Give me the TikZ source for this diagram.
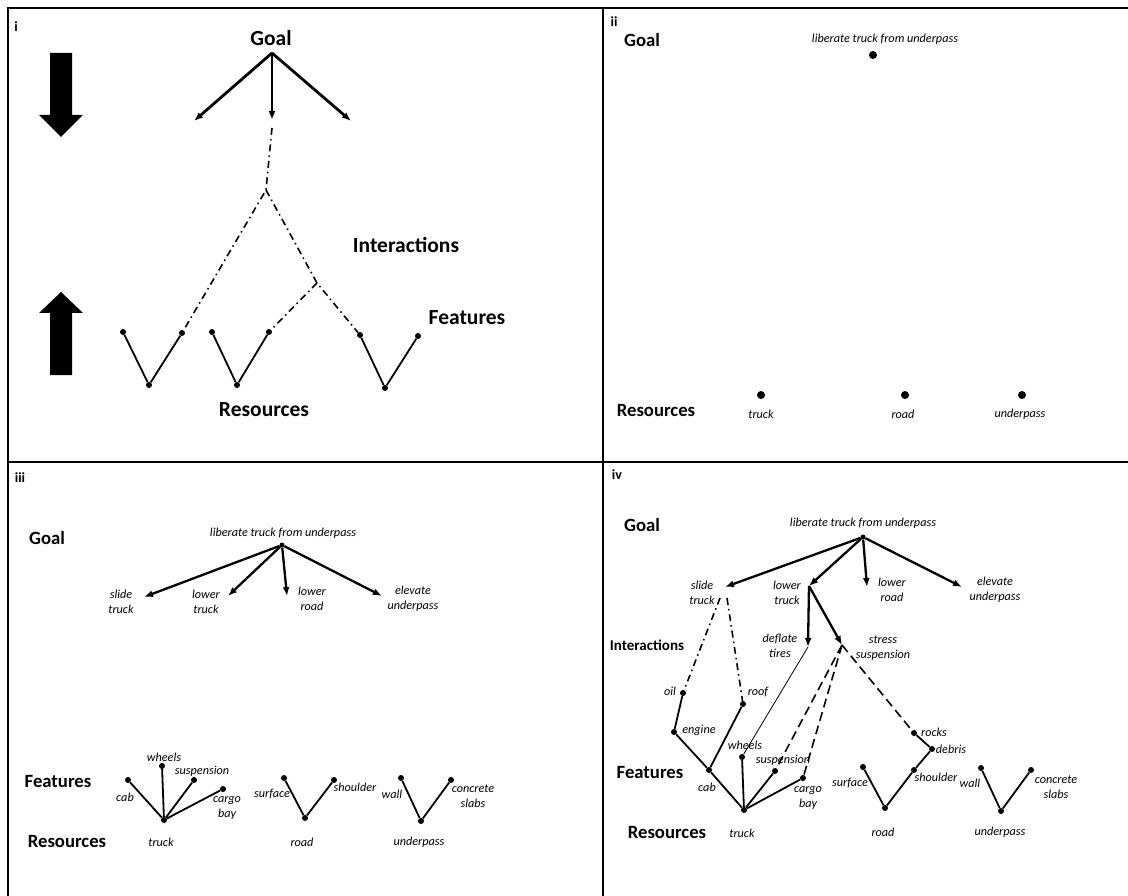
\documentclass[tikz,border=0pt]{standalone}
\usepackage{fontspec}
\setmainfont{Carlito}
\usetikzlibrary{positioning,calc,arrows.meta}
\tikzset{
  dot/.style={circle,fill,inner sep=0pt,minimum size=6pt},
  bigdot/.style={circle,fill,inner sep=0pt,minimum size=8pt},
  pnl/.style={font=\fontsize{14}{16}\selectfont\bfseries,inner sep=0pt},
  head/.style={font=\fontsize{18.7}{22}\selectfont\bfseries,inner sep=0pt},
  bighead/.style={font=\fontsize{21.5}{25}\selectfont\bfseries,inner sep=0pt},
  lbl/.style={font=\fontsize{12.2}{15}\selectfont\itshape,inner sep=0pt,align=center},
  goalarr/.style={-{Latex[length=9pt,width=7pt]},line width=2.3pt},
  link/.style={line width=1.8pt},
  thinlink/.style={line width=0.8pt},
  dashdot/.style={line width=1.6pt,dash pattern=on 7pt off 4pt on 1.5pt off 4pt},
  dashlink/.style={line width=1.6pt,dash pattern=on 9pt off 5pt},
  frame/.style={line width=2.5pt}
}
\begin{document}
\begin{tikzpicture}[x=1pt,y=-1pt]
  \useasboundingbox (0,0) rectangle (1128,896);
  \draw[frame] (8,896) -- (8,8) -- (1128,8);
  \draw[frame] (603,8) -- (603,896);
  \draw[frame] (8,462) -- (1128,462);

  % i
  \node[pnl] (ti) at (16,27) {i};
  \fill (50,53) -- (72,53) -- (72,115) -- (83,115) -- (61,137) -- (39,115) -- (50,115) -- cycle;
  \fill (50,375) -- (72,375) -- (72,313) -- (83,313) -- (61,292) -- (39,313) -- (50,313) -- cycle;
  \node[bighead] (goali) at (271,38) {Goal};
  \coordinate (gi) at (272,53);
  \coordinate (ai1) at (194,121);
  \coordinate (ai2) at (272,120);
  \coordinate (ai3) at (351,121);
  \draw[goalarr,line width=2.8pt] (gi) -- (ai1);
  \draw[goalarr,line width=2.8pt] (gi) -- (ai2);
  \draw[goalarr,line width=2.8pt] (gi) -- (ai3);
  \coordinate (ci0) at (272,128);
  \coordinate (ci1) at (266,190);
  \coordinate (ci2) at (317,283);
  \node[dot] (v1a) at (123,332) {};
  \node[dot] (v1b) at (149,385) {};
  \node[dot] (v1c) at (182,333) {};
  \node[dot] (v2a) at (212,332) {};
  \node[dot] (v2b) at (237,385) {};
  \node[dot] (v2c) at (269,332) {};
  \node[dot] (v3a) at (360,335) {};
  \node[dot] (v3b) at (385,388) {};
  \node[dot] (v3c) at (418,336) {};
  \draw[link] (v1a) -- (v1b) -- (v1c);
  \draw[link] (v2a) -- (v2b) -- (v2c);
  \draw[link] (v3a) -- (v3b) -- (v3c);
  \draw[dashdot] (ci0) -- (ci1) -- (v1c);
  \draw[dashdot] (ci1) -- (ci2) -- (v3a);
  \draw[dashdot] (ci2) -- (v2c);
  \node[bighead] (inti) at (406,245) {Interactions};
  \node[bighead] (feai) at (467,318) {Features};
  \node[bighead] (resi) at (264,410) {Resources};

  % ii
  \node[pnl] (tii) at (614,22) {ii};
  \node[head] (goalii) at (642,40) {Goal};
  \node[lbl] (lgii) at (885,39) {liberate truck from underpass};
  \node[bigdot] (gii) at (873,55) {};
  \node[head] (resii) at (656,411) {Resources};
  \node[bigdot] (trii) at (761,395) {};
  \node[bigdot] (rdii) at (905,395) {};
  \node[bigdot] (upii) at (1022,395) {};
  \node[lbl] (ltrii) at (761,414) {truck};
  \node[lbl] (lrdii) at (903,414) {road};
  \node[lbl] (lupii) at (1020,414) {underpass};

  % iii
  \node[pnl] (tiii) at (20,478) {iii};
  \node[head] (goaliii) at (47,538) {Goal};
  \node[lbl] (lgiii) at (283,533) {liberate truck from underpass};
  \node[dot,minimum size=5pt] (giii) at (282,545) {};
  \coordinate (siii) at (144,597);
  \coordinate (ltiii) at (228,596);
  \coordinate (lriii) at (287,596);
  \coordinate (euiii) at (382,596);
  \draw[goalarr] (giii) -- (siii);
  \draw[goalarr] (giii) -- (ltiii);
  \draw[goalarr] (giii) -- (lriii);
  \draw[goalarr] (giii) -- (euiii);
  \node[lbl] (lsiii) at (121,602) {slide\\truck};
  \node[lbl] (lltiii) at (206,602) {lower\\truck};
  \node[lbl] (llriii) at (312,599) {lower\\road};
  \node[lbl] (leuiii) at (413,599) {elevate\\underpass};
  \node[head] (feaiii) at (58,782) {Features};
  \node[head] (resiii) at (67,842) {Resources};
  \node[dot] (triii) at (164,820) {};
  \node[dot] (cabiii) at (128,780) {};
  \node[dot] (wheiii) at (162,766) {};
  \node[dot] (susiii) at (194,780) {};
  \node[dot] (cariii) at (223,789) {};
  \draw[link] (triii) -- (cabiii);
  \draw[link] (triii) -- (wheiii);
  \draw[link] (triii) -- (susiii);
  \draw[link] (triii) -- (cariii);
  \node[lbl] at (164,757) {wheels};
  \node[lbl] at (202,771) {suspension};
  \node[lbl] at (125,797) {cab};
  \node[lbl] at (227,808) {cargo\\bay};
  \node[lbl] at (161,842) {truck};
  \node[dot] (sfiii) at (284,778) {};
  \node[dot] (rdiii) at (305,818) {};
  \node[dot] (shiii) at (334,780) {};
  \draw[link] (sfiii) -- (rdiii) -- (shiii);
  \node[lbl] at (272,794) {surface};
  \node[lbl] at (355,787) {shoulder};
  \node[lbl] at (302,842) {road};
  \node[dot] (waiii) at (401,778) {};
  \node[dot] (upiii) at (421,821) {};
  \node[dot] (csiii) at (451,780) {};
  \draw[link] (waiii) -- (upiii) -- (csiii);
  \node[lbl] at (392,794) {wall};
  \node[lbl] at (473,796) {concrete\\slabs};
  \node[lbl] at (419,842) {underpass};

  % iv
  \node[pnl] (tiv) at (617,475) {iv};
  \node[head] (goaliv) at (642,525) {Goal};
  \node[lbl] (lgiv) at (863,523) {liberate truck from underpass};
  \node[dot,minimum size=5pt] (giv) at (863,537) {};
  \coordinate (siv) at (725,587);
  \coordinate (ltiv) at (809,586);
  \coordinate (lriv) at (867,587);
  \coordinate (euiv) at (962,587);
  \draw[goalarr] (giv) -- (siv);
  \draw[goalarr] (giv) -- (ltiv);
  \draw[goalarr] (giv) -- (lriv);
  \draw[goalarr] (giv) -- (euiv);
  \node[lbl] at (702,593) {slide\\truck};
  \node[lbl] at (787,593) {lower\\truck};
  \node[lbl] at (892,590) {lower\\road};
  \node[lbl] at (995,590) {elevate\\underpass};
  \coordinate (dtiv) at (808,647);
  \coordinate (ssiv) at (842,645);
  \draw[goalarr] (ltiv) -- (dtiv);
  \draw[goalarr] (ltiv) -- (ssiv);
  \node[lbl] at (780,646) {deflate\\tires};
  \node[lbl] at (883,648) {stress\\suspension};
  \node[head,font=\fontsize{15}{18}\selectfont\bfseries] (intiv) at (647,645) {Interactions};
  \node[head] (feaiv) at (650,773) {Features};
  \node[head] (resiv) at (667,833) {Resources};
  \coordinate (sliv) at (720,598);
  \coordinate (sriv) at (727,598);
  \node[dot] (oiliv) at (683,693) {};
  \node[dot] (roofiv) at (743,704) {};
  \node[dot] (engiv) at (674,732) {};
  \node[dot] (cabiv) at (709,770) {};
  \node[dot] (triv) at (744,810) {};
  \node[dot] (wheiv) at (742,757) {};
  \node[dot] (susiv) at (775,771) {};
  \node[dot] (cariv) at (803,778) {};
  \draw[dashdot] (sliv) -- (oiliv);
  \draw[dashdot] (sriv) -- (roofiv);
  \draw[link] (oiliv) -- (engiv) -- (cabiv) -- (triv);
  \draw[link] (roofiv) -- (cabiv);
  \draw[thinlink] (dtiv) -- (wheiv);
  \draw[link] (wheiv) -- (triv);
  \draw[link] (triv) -- (susiv);
  \draw[link] (triv) -- (cariv);
  \draw[dashlink] (ssiv) -- (susiv);
  \draw[dashlink] (ssiv) -- (cariv);
  \node[lbl] at (670,691) {oil};
  \node[lbl] at (758,692) {roof};
  \node[lbl] at (699,730) {engine};
  \node[lbl] at (707,787) {cab};
  \node[lbl] at (742,833) {truck};
  \node[lbl] at (745,745) {wheels};
  \node[lbl] at (783,760) {suspension};
  \node[lbl] at (808,798) {cargo\\bay};
  \node[dot] (rociv) at (914,733) {};
  \node[dot] (debiv) at (932,749) {};
  \node[dot] (shiv) at (914,770) {};
  \node[dot] (rdiv) at (885,808) {};
  \node[dot] (sfiv) at (863,767) {};
  \draw[dashlink] (ssiv) -- (rociv);
  \draw[link] (rociv) -- (debiv) -- (shiv) -- (rdiv) -- (sfiv);
  \node[lbl] at (934,732) {rocks};
  \node[lbl] at (951,749) {debris};
  \node[lbl] at (936,777) {shoulder};
  \node[lbl] at (850,783) {surface};
  \node[lbl] at (883,832) {road};
  \node[dot] (waiv) at (981,768) {};
  \node[dot] (upiv) at (1001,811) {};
  \node[dot] (csiv) at (1031,770) {};
  \draw[link] (waiv) -- (upiv) -- (csiv);
  \node[lbl] at (970,783) {wall};
  \node[lbl] at (1056,787) {concrete\\slabs};
  \node[lbl] at (1000,832) {underpass};
\end{tikzpicture}
\end{document}
